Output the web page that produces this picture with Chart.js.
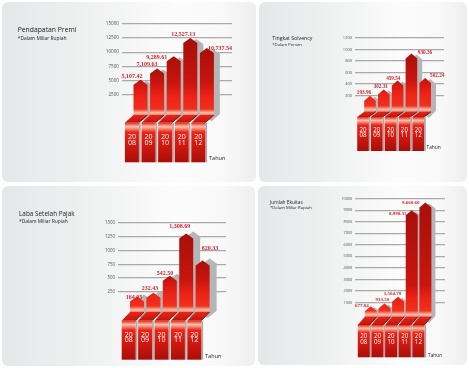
<!DOCTYPE html>
<html lang="en">
<head>
  <meta charset="UTF-8" />
  <title>Kinerja Keuangan</title>
  <script src="https://cdn.jsdelivr.net/npm/chart.js"></script>
  <style>
    html, body { margin: 0; padding: 0; background: #fff; }
    body { width: 469px; height: 368px; position: relative; overflow: hidden; font-family: "Open Sans", sans-serif; }
    .panel { position: absolute; border-radius: 6px; background: linear-gradient(90deg, #e6e7e9 0%, #eeefef 30%, #fcfcfc 68%, #f8f8f8 88%, #eeeeef 100%); }
    .panel canvas { position: absolute; left: 0; top: 0; }
    .title, .sub { position: absolute; color: #222; white-space: nowrap; line-height: 1; }
  </style>
</head>
<body>
  <script>
    const years = [2008, 2009, 2010, 2011, 2012];
    const premi = [5107.42, 7109.63, 9289.61, 12527.13, 10737.54];
    const solvency = [193.96, 302.31, 459.54, 930.36, 502.24];
    const laba = [164.05, 232.43, 542.50, 1308.69, 820.33];
    const ekuitas = [677.84, 913.50, 1504.79, 8998.35, 9660.60];

    const premiTicks = { max: 15000, step: 2500 };
    const solvencyTicks = { max: 1200, step: 200 };
    const labaTicks = { max: 1500, step: 250 };
    const ekuitasTicks = { max: 10000, step: 1000 };

    // layout of each panel, in page pixels
    const panels = [
      { x: 2, y: 2, w: 254, h: 180, values: premi, ticks: premiTicks,
        title: 'Pendapatan Premi', sub: '*Dalam Miliar Rupiah', titleX: 17.7, titleY: 30.7, subY: 38, titleSize: 6.8, subSize: 4.9,
        gridL: 122, gridR: 232, gridT: 24, base: 108.5, cx0: 140.5, pitch: 16.6, barW: 14,
        foldT: 115, lowT: 122.7, lowB: 162.3, shift: 8.6, yearSize: 7, year1: 14.5, year2: 20,
        tahunX: 209, tahunY: 158, tahunSize: 5.6, labelSize: 6, fontTick: 4.6, shadow: [6, 1],
        labelDx: [-8.5, -10, -17, -7, 13], labelDy: [-3.5, -4.3, 1.6, -3, 0] },
      { x: 259, y: 2, w: 208, h: 180, values: solvency, ticks: solvencyTicks,
        title: 'Tingkat Solvency', sub: '*Dalam Persen', titleX: 272.3, titleY: 39, subY: 44.7, titleSize: 5.2, subSize: 4.2,
        gridL: 355, gridR: 444, gridT: 38, base: 107, cx0: 370, pitch: 13.8, barW: 11.6,
        foldT: 111.7, lowT: 117, lowB: 151, shift: 7, yearSize: 6.2, year1: 13, year2: 18,
        tahunX: 426.5, tahunY: 148, tahunSize: 4.8, labelSize: 5.2, fontTick: 4, shadow: [5, 1],
        labelDx: [-6, -3, -4.3, 13.6, 12], labelDy: [-3.5, -2.6, -2, -0.8, -2] },
      { x: 2, y: 186, w: 253, h: 180, values: laba, ticks: labaTicks,
        title: 'Laba Setelah Pajak', sub: '*Dalam Miliar Rupiah', titleX: 19, titleY: 214, subY: 221.5, titleSize: 6.4, subSize: 4.9,
        gridL: 118, gridR: 226, gridT: 223, base: 305.5, cx0: 137, pitch: 16.4, barW: 14,
        foldT: 312, lowT: 320.7, lowB: 359.7, shift: 8.3, yearSize: 7, year1: 14, year2: 19.5,
        tahunX: 205, tahunY: 356.7, tahunSize: 5.6, labelSize: 6, fontTick: 4.4, shadow: [7, -2],
        labelDx: [-3, -3.4, -4.8, -6.5, 7.4], labelDy: [0.8, -4.4, -2.7, -7.2, -12.4] },
      { x: 258, y: 186, w: 209, h: 179, values: ekuitas, ticks: ekuitasTicks,
        title: 'Jumlah Ekuitas', sub: '*Dalam Miliar Rupiah', titleX: 270, titleY: 202.3, subY: 208, titleSize: 4.8, subSize: 4.2,
        gridL: 355.3, gridR: 445, gridT: 198.7, base: 314, cx0: 370.8, pitch: 13.65, barW: 12,
        foldT: 316.7, lowT: 325, lowB: 357.3, shift: 7, yearSize: 6.2, year1: 11.7, year2: 17,
        tahunX: 428, tahunY: 355.7, tahunSize: 4.8, labelSize: 5, fontTick: 3.9, shadow: [4, 1],
        labelDx: [-9, -2, -5.5, -14, -14.7], labelDy: [0, -3.8, -3, 3.8, 0.4] }
    ];

    const AXIS_W = 16;
    const HEAD = 5;

    function money(v) {
      return v.toLocaleString('en-US', { minimumFractionDigits: 2, maximumFractionDigits: 2 });
    }

    function ribbonPlugin(p) {
      return {
        id: 'ribbon',
        afterDatasetsDraw(chart) {
          const ctx = chart.ctx;
          const bars = chart.getDatasetMeta(0).data;
          const foldT = p.foldT - p.y, lowT = p.lowT - p.y, lowB = p.lowB - p.y;

          // grey shadow behind the upper part
          bars.forEach(b => {
            const l = b.x - b.width / 2 + p.shadow[0], r = b.x + b.width / 2 + p.shadow[0];
            const top = b.y + p.shadow[1];
            ctx.fillStyle = '#b4b5b7';
            ctx.beginPath();
            ctx.moveTo(l, top + HEAD);
            ctx.lineTo(b.x + p.shadow[0], top);
            ctx.lineTo(r, top + HEAD);
            ctx.lineTo(r, foldT - 1);
            ctx.lineTo(r - p.shadow[0] - 2, foldT + 6);
            ctx.lineTo(l - p.shadow[0], foldT);
            ctx.closePath();
            ctx.fill();
          });

          bars.forEach((b, i) => {
            const l = b.x - b.width / 2, r = b.x + b.width / 2;

            // upper body with arrow head
            const len = foldT - b.y;
            const up = ctx.createLinearGradient(0, b.y, 0, foldT);
            const stop = at => Math.max(0, Math.min(1, 1 - at / len));
            up.addColorStop(0, '#a80f0a');
            up.addColorStop(stop(32), '#c9150e');
            up.addColorStop(stop(18), '#ee2216');
            up.addColorStop(stop(6), '#f0301f');
            up.addColorStop(stop(2), '#fbc4ac');
            up.addColorStop(1, '#f37a5c');
            ctx.fillStyle = up;
            ctx.beginPath();
            ctx.moveTo(l, b.y + HEAD);
            ctx.lineTo(b.x, b.y);
            ctx.lineTo(r, b.y + HEAD);
            ctx.lineTo(r, foldT);
            ctx.lineTo(l, foldT);
            ctx.closePath();
            ctx.fill();

            // diagonal fold between upper and lower part
            const fold = ctx.createLinearGradient(0, foldT, 0, lowT);
            fold.addColorStop(0, '#e9251a');
            fold.addColorStop(1, '#c3140d');
            ctx.fillStyle = fold;
            ctx.beginPath();
            ctx.moveTo(l, foldT);
            ctx.lineTo(r, foldT);
            ctx.lineTo(r - p.shift, lowT);
            ctx.lineTo(l - p.shift, lowT);
            ctx.closePath();
            ctx.fill();
            ctx.strokeStyle = '#4e0805';
            ctx.lineWidth = 0.8;
            ctx.beginPath();
            ctx.moveTo(r, foldT);
            ctx.lineTo(r - p.shift, lowT);
            ctx.stroke();

            // lower ribbon with the year on it
            const ll = l - p.shift, lr = r - p.shift;
            ctx.fillStyle = '#a9aaac';
            ctx.fillRect(lr, lowT, 1.8, lowB - lowT);
            const low = ctx.createLinearGradient(0, lowT, 0, lowB);
            low.addColorStop(0, '#e8261a');
            low.addColorStop(0.1, '#f9c3ab');
            low.addColorStop(0.24, '#ee2317');
            low.addColorStop(0.6, '#cf170f');
            low.addColorStop(1, '#a80f0a');
            ctx.fillStyle = low;
            ctx.fillRect(ll, lowT, lr - ll, lowB - lowT);

            const yr = String(years[i]);
            ctx.fillStyle = '#fff';
            ctx.font = p.yearSize + 'px "Open Sans"';
            ctx.textAlign = 'center';
            ctx.textBaseline = 'middle';
            ctx.fillText(yr.slice(0, 2), (ll + lr) / 2, lowT + p.year1);
            ctx.fillText(yr.slice(2), (ll + lr) / 2, lowT + p.year2);

            // value label
            ctx.fillStyle = '#d5202a';
            ctx.font = 'bold ' + p.labelSize + 'px "Liberation Serif"';
            ctx.fillText(money(p.values[i]), b.x + p.labelDx[i], b.y + p.labelDy[i]);
          });

          ctx.fillStyle = '#222';
          ctx.font = p.tahunSize + 'px "Open Sans"';
          ctx.textAlign = 'left';
          ctx.fillText('Tahun', p.tahunX - p.x, p.tahunY - p.y);
        }
      };
    }

    panels.forEach(p => {
      const div = document.createElement('div');
      div.className = 'panel';
      div.style.cssText = `left:${p.x}px;top:${p.y}px;width:${p.w}px;height:${p.h}px`;
      const canvas = document.createElement('canvas');
      canvas.width = p.w;
      canvas.height = p.h;
      div.appendChild(canvas);

      const title = document.createElement('div');
      title.className = 'title';
      title.textContent = p.title;
      title.style.cssText = `left:${p.titleX - p.x}px;top:${p.titleY - p.y - p.titleSize / 2}px;font-size:${p.titleSize}px`;
      div.appendChild(title);
      const sub = document.createElement('div');
      sub.className = 'sub';
      sub.textContent = p.sub;
      sub.style.cssText = `left:${p.titleX - p.x}px;top:${p.subY - p.y - p.subSize / 2}px;font-size:${p.subSize}px`;
      div.appendChild(sub);
      document.body.appendChild(div);

      // years run on a linear x axis so the grid can reach past the bars
      const xMin = years[0] - (p.cx0 - p.gridL) / p.pitch;
      const xMax = xMin + (p.gridR - p.gridL) / p.pitch;

      new Chart(canvas.getContext('2d'), {
        type: 'bar',
        data: {
          datasets: [{
            data: years.map((yr, i) => ({ x: yr, y: p.values[i] })),
            backgroundColor: 'rgba(0,0,0,0)',
            barThickness: p.barW
          }]
        },
        options: {
          responsive: false,
          animation: false,
          layout: {
            padding: {
              left: p.gridL - p.x - AXIS_W,
              right: p.x + p.w - p.gridR,
              top: p.gridT - p.y,
              bottom: p.y + p.h - p.base
            }
          },
          plugins: { legend: { display: false }, tooltip: { enabled: false } },
          scales: {
            x: { type: 'linear', display: false, offset: false, min: xMin, max: xMax },
            y: {
              min: 0,
              max: p.ticks.max,
              afterFit(scale) { scale.width = AXIS_W; },
              border: { display: false },
              grid: {
                drawTicks: false,
                lineWidth: 1.2,
                color: c => (c.tick.value === 0 ? 'rgba(0,0,0,0)' : '#a8a9aa')
              },
              ticks: {
                stepSize: p.ticks.step,
                padding: 3,
                color: '#555',
                font: { size: p.fontTick, family: 'Open Sans' },
                callback: v => (v === 0 ? '' : String(v))
              }
            }
          }
        },
        plugins: [ribbonPlugin(p)]
      });
    });
  </script>
</body>
</html>
